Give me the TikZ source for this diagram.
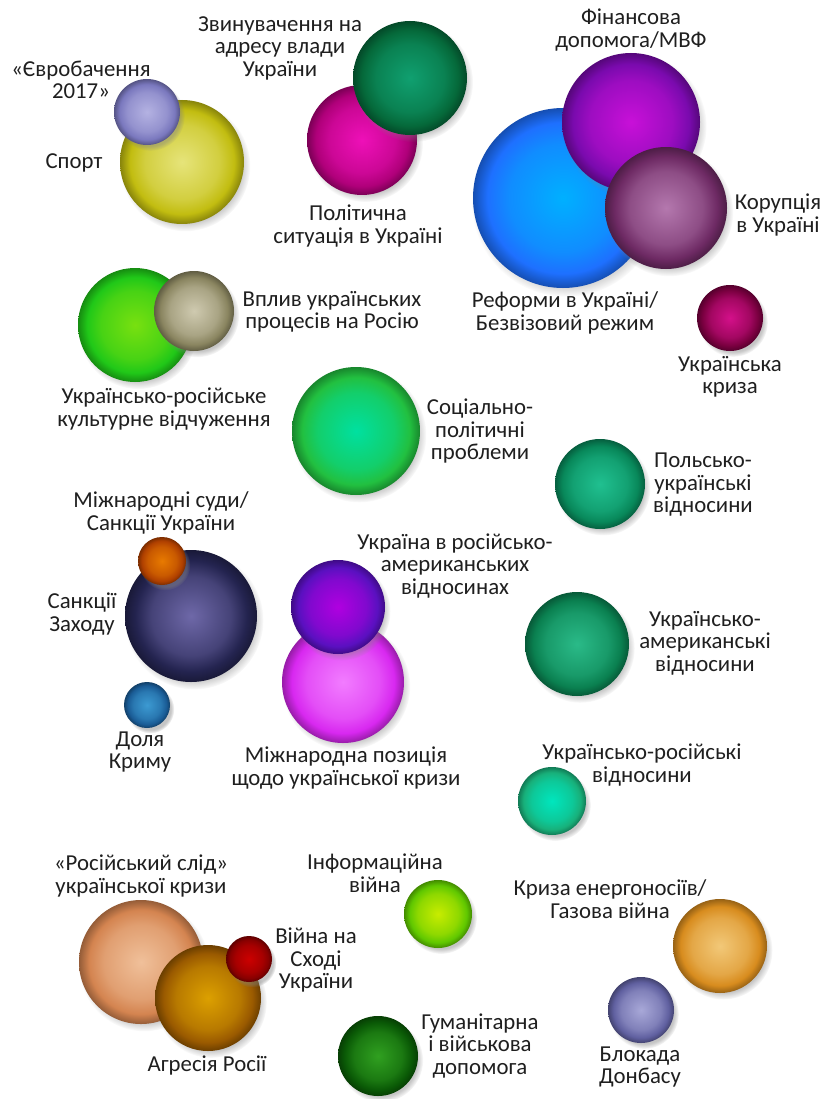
\documentclass[tikz,border=0pt]{standalone}
\usepackage{fontspec}
\setmainfont{Carlito}
\usepackage{xcolor}
\usepackage{tikz}
\usetikzlibrary{shadows,fadings}
% light centre, body colour, dark rim
\pgfdeclareradialshading[bubin,bubout]{bubshade}{\pgfpoint{0bp}{0bp}}{color(0bp)=(bubin); color(15bp)=(bubin!45!bubout); color(21bp)=(bubout); color(25bp)=(bubout!70!black); color(50bp)=(bubout!70!black)}

\begin{document}
\begin{tikzpicture}[x=1pt,y=-1pt,
  bubcol/.code 2 args={\definecolor{bubin}{HTML}{#1}\definecolor{bubout}{HTML}{#2}},
  bubble/.style 2 args={circle, inner sep=0pt, bubcol={#1}{#2}, shading=bubshade,
    circular drop shadow={shadow xshift=3pt, shadow yshift=-4pt, shadow scale=1.05, opacity=.45}},
  lbl/.style={align=center, text=black!88, font=\fontsize{22.8}{22.5}\selectfont, inner sep=0pt}]
  \useasboundingbox[fill=white] (0,0) rectangle (827,1099);
  % top row
  \node[bubble={E6E47A}{C2BD10}, minimum size=124pt] (sport) at (182,162) {};
  \node[bubble={B4B2E2}{7A78BE}, minimum size=66pt] (euro) at (147,112) {};
  \node[bubble={EE10B8}{B0007A}, minimum size=110pt] (polit) at (362,140) {};
  \node[bubble={10A070}{05693A}, minimum size=114pt] (accuse) at (410,78) {};
  \node[bubble={00B0FF}{1E70FF}, minimum size=180pt] (reform) at (563,198) {};
  \node[bubble={C810D8}{7A0AAE}, minimum size=138pt] (finance) at (631,122) {};
  \node[bubble={B478AE}{6E2A64}, minimum size=122pt] (corrupt) at (666,208) {};
  \node[bubble={D4108A}{7A0040}, minimum size=66pt] (crisis) at (730,318) {};
  \node[lbl] (euroL) at (81,80) {«Євробачення\\2017»};
  \node[lbl] (sportL) at (74,163) {Спорт};
  \node[lbl] (accuseL) at (280,48) {Звинувачення на\\адресу влади\\України};
  \node[lbl] (politL) at (358,226) {Політична\\ситуація в Україні};
  \node[lbl] (financeL) at (631,30) {Фінансова\\допомога/МВФ};
  \node[lbl] (corruptL) at (778,215) {Корупція\\в Україні};
  \node[lbl] (reformL) at (565,313) {Реформи в Україні/\\Безвізовий режим};
  \node[lbl] (crisisL) at (730,377) {Українська\\криза};
  % middle
  \node[bubble={78E010}{20C818}, minimum size=114pt] (cult) at (135,325) {};
  \node[bubble={CFCAB0}{8A8560}, minimum size=80pt] (influence) at (194,311) {};
  \node[bubble={00E0A0}{22C040}, minimum size=128pt] (social) at (356,431) {};
  \node[bubble={20C090}{08885A}, minimum size=90pt] (polish) at (600,484) {};
  \node[lbl] (influenceL) at (332,312) {Вплив українських\\процесів на Росію};
  \node[lbl] (cultL) at (164,409) {Українсько-російське\\культурне відчуження};
  \node[lbl] (socialL) at (480,431) {Соціально-\\політичні\\проблеми};
  \node[lbl] (polishL) at (703,485) {Польсько-\\українські\\відносини};
  \node[bubble={6E68A8}{242450}, minimum size=132pt] (sanctions) at (191,616) {};
  \node[bubble={E87A00}{B04000}, minimum size=48pt] (courts) at (162,561) {};
  \node[bubble={3C9AD2}{1A5C96}, minimum size=46pt] (crimea) at (147,705) {};
  \node[bubble={F27CFF}{D828F0}, minimum size=122pt] (intpos) at (343,682) {};
  \node[bubble={B000E0}{5A10C0}, minimum size=94pt] (uarusus) at (338,607) {};
  \node[bubble={2ABA88}{0A8050}, minimum size=104pt] (uaus) at (577,644) {};
  \node[bubble={00E6BE}{18B07A}, minimum size=68pt] (uaru) at (552,801) {};
  \node[lbl] (courtsL) at (161,513) {Міжнародні суди/\\Санкції України};
  \node[lbl] (sanctionsL) at (82,614) {Санкції\\Заходу};
  \node[lbl] (crimeaL) at (140,752) {Доля\\Криму};
  \node[lbl] (uarususL) at (455,566) {Україна в російсько-\\американських\\відносинах};
  \node[lbl] (intposL) at (346,768) {Міжнародна позиція\\щодо української кризи};
  \node[lbl] (uausL) at (705,643) {Українсько-\\американські\\відносини};
  \node[lbl] (uaruL) at (642,765) {Українсько-російські\\відносини};
  % bottom
  \node[bubble={F0C09A}{D48450}, minimum size=124pt] (rustrace) at (141,962) {};
  \node[bubble={DCA000}{9A5A00}, minimum size=106pt] (aggress) at (208,998) {};
  \node[bubble={CC0000}{880000}, minimum size=46pt] (eastwar) at (249,959) {};
  \node[bubble={C8EC00}{60C800}, minimum size=68pt] (infowar) at (438,914) {};
  \node[bubble={30A020}{0A5A06}, minimum size=80pt] (aid) at (378,1056) {};
  \node[bubble={F2C878}{D88C1E}, minimum size=94pt] (gas) at (720,946) {};
  \node[bubble={A8A8D8}{6060A0}, minimum size=66pt] (blockade) at (641,1010) {};
  \node[lbl] (rustraceL) at (141,876) {«Російський слід»\\української кризи};
  \node[lbl] (eastwarL) at (316,960) {Війна на\\Сході\\України};
  \node[lbl] (aggressL) at (207,1065) {Агресія Росії};
  \node[lbl] (infowarL) at (375,873) {Інформаційна\\війна};
  \node[lbl] (gasL) at (610,899) {Криза енергоносіїв/\\Газова війна};
  \node[lbl] (aidL) at (480,1046) {Гуманітарна\\і військова\\допомога};
  \node[lbl] (blockadeL) at (640,1067) {Блокада\\Донбасу};
\end{tikzpicture}
\end{document}
